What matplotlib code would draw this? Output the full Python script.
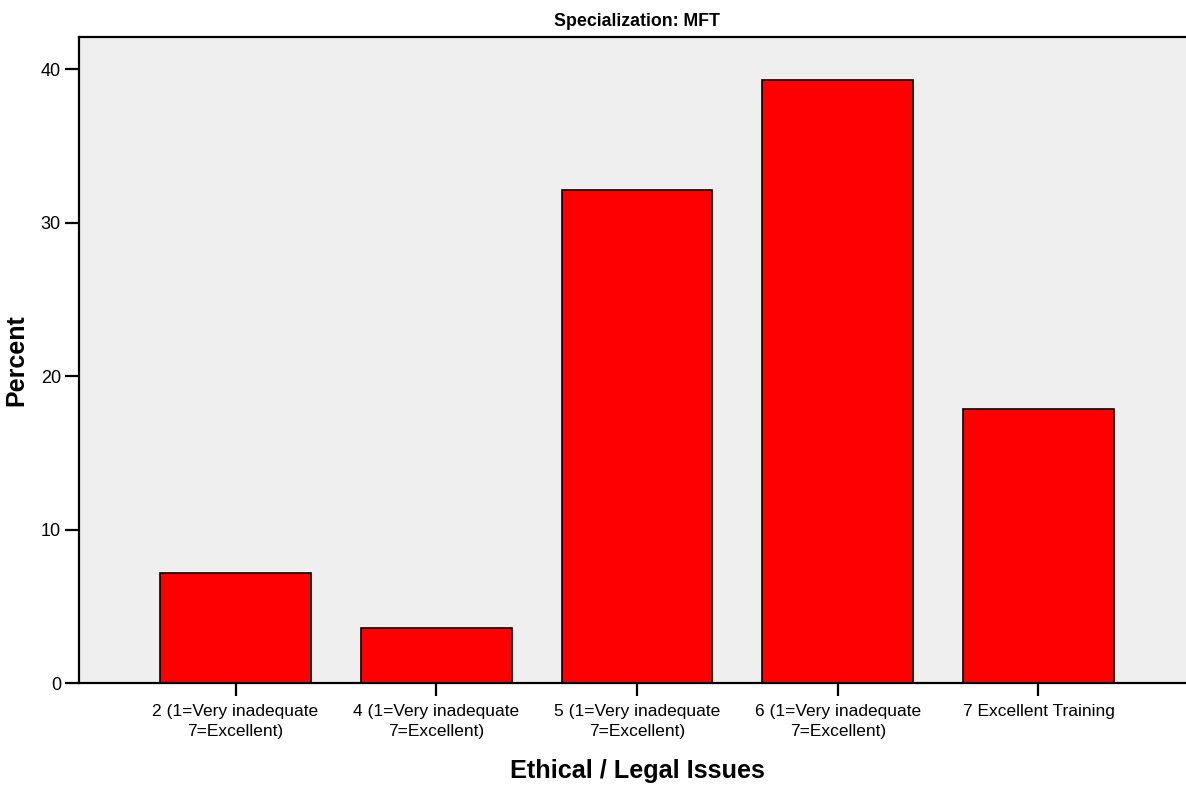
import matplotlib.pyplot as plt
import numpy as np

categories = [
    "2 (1=Very inadequate\n7=Excellent)",
    "4 (1=Very inadequate\n7=Excellent)",
    "5 (1=Very inadequate\n7=Excellent)",
    "6 (1=Very inadequate\n7=Excellent)",
    "7 Excellent Training",
]
percent = [7.14, 3.57, 32.14, 39.29, 17.86]
yticks = [0, 10, 20, 30, 40]

plt.rcParams["font.family"] = ["Liberation Sans Narrow", "Liberation Sans", "DejaVu Sans"]

fig = plt.figure(figsize=(11.86, 7.94), dpi=100)
# axes runs off the right edge of the figure, like the original
ax = fig.add_axes([79 / 1186, 1 - 683 / 794, (1195 - 79) / 1186, (683 - 37) / 794])

x = np.arange(len(categories))
ax.bar(x, percent, width=0.75, color="#ff0000", edgecolor="black", linewidth=1.2, zorder=2)

ax.set_facecolor("#efefef")
ax.set_xlim(-0.78, 4.78)
ax.set_ylim(0, 42.1)
ax.set_xticks(x)
ax.set_xticklabels(categories, fontsize=12.5, linespacing=1.4, va="top")
ax.set_yticks(yticks)
ax.tick_params(axis="y", labelsize=13, length=10, width=1.6, direction="out", pad=3)
ax.tick_params(axis="x", length=9, width=1.6, direction="out", pad=6)

for side in ["left", "bottom", "top"]:
    ax.spines[side].set_linewidth(1.6)
ax.spines["right"].set_visible(False)

ax.set_title("Specialization: MFT", fontsize=12.8, fontweight="bold", pad=8)
ax.set_ylabel("Percent", fontsize=18, fontweight="bold", labelpad=9)
ax.set_xlabel("Ethical / Legal Issues", fontsize=18.2, fontweight="bold", labelpad=15)

fig.savefig("out.png", dpi=100)
